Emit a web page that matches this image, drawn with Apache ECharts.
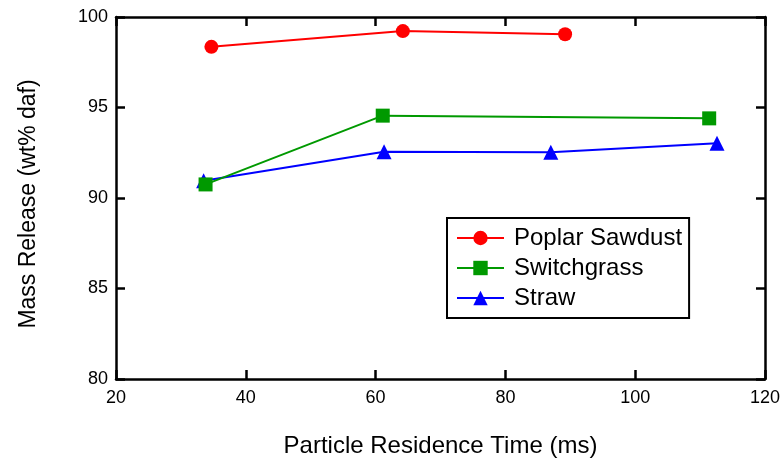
<!DOCTYPE html>
<html>
<head>
    <meta charset="utf-8">
    <title>Mass Release</title>
    <script src="https://cdn.jsdelivr.net/npm/echarts@6/dist/echarts.min.js"></script>
</head>
<body style="margin:0">
    <div id="main" style="width:782px;height:461px;"></div>
    <script type="text/javascript">
        // data
        var poplarX = [34.7, 64.2, 89.2];
        var poplarY = [98.35, 99.22, 99.05];
        var switchX = [33.8, 61.1, 111.4];
        var switchY = [90.75, 94.55, 94.4];
        var strawX = [33.5, 61.3, 87.0, 112.6];
        var strawY = [90.95, 92.55, 92.53, 93.03];

        function pairs(xs, ys) {
            var out = [];
            for (var i = 0; i < xs.length; i++) out.push([xs[i], ys[i]]);
            return out;
        }

        var font = 'Liberation Sans, Arial, sans-serif';
        var axisLine = { lineStyle: { color: '#000', width: 2.5 } };
        var tick = { inside: true, length: 9, lineStyle: { color: '#000', width: 2.5 } };

        var myChart = echarts.init(document.getElementById('main'));
        myChart.setOption({
            animation: false,
            textStyle: { fontFamily: font },
            grid: { left: 116, right: 17, top: 17, bottom: 82, outerBoundsMode: 'none' },
            legend: {
                left: 447, top: 218,
                orient: 'vertical',
                borderColor: '#000', borderWidth: 2,
                padding: [8, 7, 8, 9],
                itemGap: 6,
                itemWidth: 47, itemHeight: 18,
                textStyle: { fontSize: 24, lineHeight: 24, color: '#000', fontFamily: font, padding: [0, 0, 0, 5] },
                data: ['Poplar Sawdust', 'Switchgrass', 'Straw']
            },
            xAxis: [{
                type: 'value', min: 20, max: 120, interval: 20,
                name: 'Particle Residence Time (ms)', nameLocation: 'middle', nameGap: 55,
                nameTextStyle: { fontSize: 24, color: '#000' },
                axisLine: axisLine, axisTick: tick,
                axisLabel: { fontSize: 18, color: '#000', margin: 10 },
                splitLine: { show: false }
            }, {
                type: 'value', min: 20, max: 120, interval: 20, position: 'top',
                axisLine: axisLine, axisTick: tick,
                axisLabel: { show: false }, splitLine: { show: false }
            }],
            yAxis: [{
                type: 'value', min: 80, max: 100, interval: 5,
                name: 'Mass Release (wt% daf)', nameLocation: 'middle', nameGap: 76,
                nameTextStyle: { fontSize: 23, color: '#000', padding: [0, 12, 0, 0] },
                axisLine: axisLine, axisTick: tick,
                axisLabel: { fontSize: 18, color: '#000', margin: 8 },
                splitLine: { show: false }
            }, {
                type: 'value', min: 80, max: 100, interval: 5, position: 'right',
                axisLine: axisLine, axisTick: tick,
                axisLabel: { show: false }, splitLine: { show: false }
            }],
            series: [{
                name: 'Poplar Sawdust', type: 'line',
                data: pairs(poplarX, poplarY),
                symbol: 'circle', symbolSize: 14,
                itemStyle: { color: '#ff0000' },
                lineStyle: { color: '#ff0000', width: 2 }
            }, {
                name: 'Switchgrass', type: 'line',
                data: pairs(switchX, switchY),
                symbol: 'rect', symbolSize: 14,
                itemStyle: { color: '#009900' },
                lineStyle: { color: '#009900', width: 2 }
            }, {
                name: 'Straw', type: 'line', z: 1,
                data: pairs(strawX, strawY),
                symbol: 'triangle', symbolSize: 15,
                itemStyle: { color: '#0000ff' },
                lineStyle: { color: '#0000ff', width: 2 }
            }]
        });
    </script>
</body>
</html>
